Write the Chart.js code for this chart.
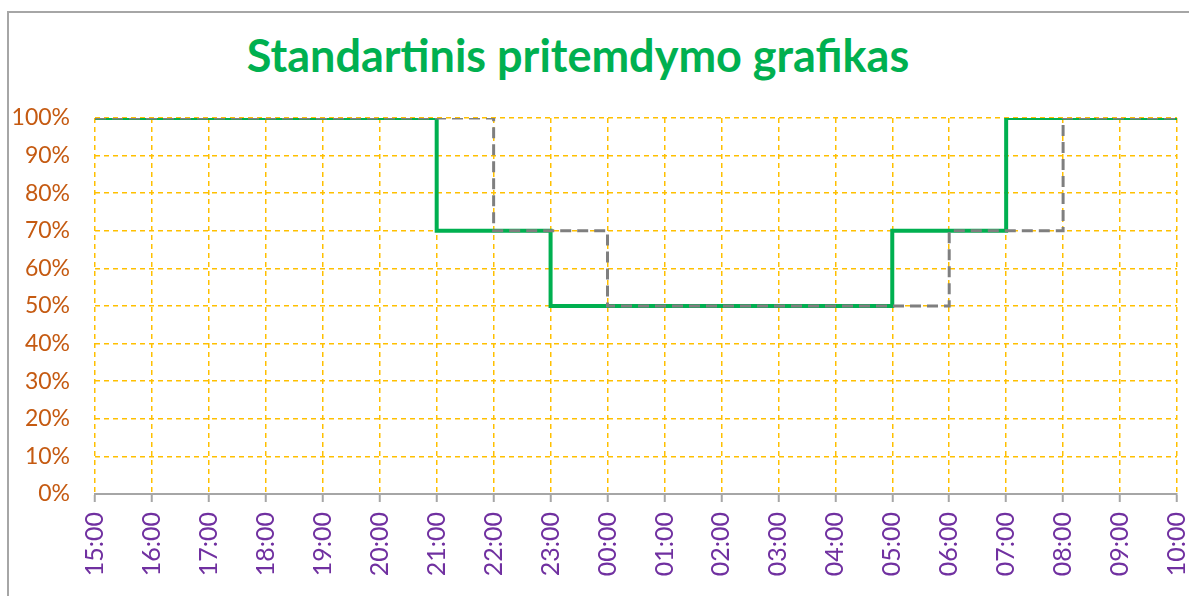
<!DOCTYPE html>
<html>
<head>
<meta charset="utf-8">
<script src="https://cdn.jsdelivr.net/npm/chart.js@4"></script>
<style>
    html, body { margin: 0; padding: 0; background: #fff; overflow: hidden; }
    #wrap { position: relative; width: 1189px; height: 596px; }
    #frame {
        position: absolute; left: 7px; top: 11px; width: 1400px; height: 800px;
        border-left: 2px solid #a6a6a6; border-top: 2px solid #a6a6a6;
    }
    #title {
        position: absolute; left: 0; width: 1156px; top: 33px;
        text-align: center; line-height: 1;
        font-family: Lato, sans-serif; font-weight: bold; font-size: 45px; color: #00b050;
    }
    #chart { position: absolute; left: 0; top: 0; }
</style>
</head>
<body>
<div id="wrap">
    <div id="frame"></div>
    <div id="title">Standartinis pritemdymo grafikas</div>
    <canvas id="chart" width="1189" height="596"></canvas>
</div>
<script>
// hours shown on the x axis
const hours = ['15:00', '16:00', '17:00', '18:00', '19:00', '20:00', '21:00', '22:00', '23:00', '00:00',
    '01:00', '02:00', '03:00', '04:00', '05:00', '06:00', '07:00', '08:00', '09:00', '10:00'];

// dimming level (%) starting at each hour
const greenLevels = [100, 100, 100, 100, 100, 100, 70, 70, 50, 50, 50, 50, 50, 50, 70, 70, 100, 100, 100, 100];
const grayLevels  = [100, 100, 100, 100, 100, 100, 100, 70, 70, 50, 50, 50, 50, 50, 50, 70, 70, 100, 100, 100];

const yTicks = [0, 10, 20, 30, 40, 50, 60, 70, 80, 90, 100];

const ctx = document.getElementById('chart').getContext('2d');
new Chart(ctx, {
    type: 'line',
    data: {
        labels: hours,
        datasets: [{
            data: grayLevels,
            borderColor: '#7f7f7f',
            borderWidth: 3,
            borderDash: [11, 6],
            stepped: true,
            pointRadius: 0,
            order: 0
        }, {
            data: greenLevels,
            borderColor: '#00b050',
            borderWidth: 4,
            stepped: true,
            pointRadius: 0,
            order: 1
        }]
    },
    options: {
        responsive: false,
        animation: false,
        layout: {
            padding: { top: 118, right: 12, left: 0, bottom: 0 }
        },
        plugins: {
            legend: { display: false },
            tooltip: { enabled: false }
        },
        scales: {
            x: {
                afterFit: function(scale) {
                    scale.height = 102;
                    scale.paddingRight = 12;
                },
                grid: {
                    color: '#ffc000',
                    lineWidth: 1.5,
                    tickColor: '#a6a6a6',
                    tickLength: 8,
                    tickWidth: 2,
                    tickBorderDash: []
                },
                border: { display: true, color: '#a6a6a6', width: 2, dash: [5, 4] },
                ticks: {
                    minRotation: 90,
                    maxRotation: 90,
                    autoSkip: false,
                    padding: 10,
                    color: '#7030a0',
                    font: { family: 'Lato', size: 25 }
                }
            },
            y: {
                min: 0,
                max: 100,
                afterFit: function(scale) { scale.width = 95; },
                afterBuildTicks: function(scale) {
                    scale.ticks = yTicks.map(v => ({ value: v }));
                },
                grid: {
                    color: '#ffc000',
                    lineWidth: 1.5,
                    drawTicks: false
                },
                border: { display: false, dash: [5, 4] },
                ticks: {
                    padding: 25,
                    color: '#c55a11',
                    font: { family: 'Lato', size: 23 },
                    callback: v => v + '%'
                }
            }
        }
    }
});
</script>
</body>
</html>
